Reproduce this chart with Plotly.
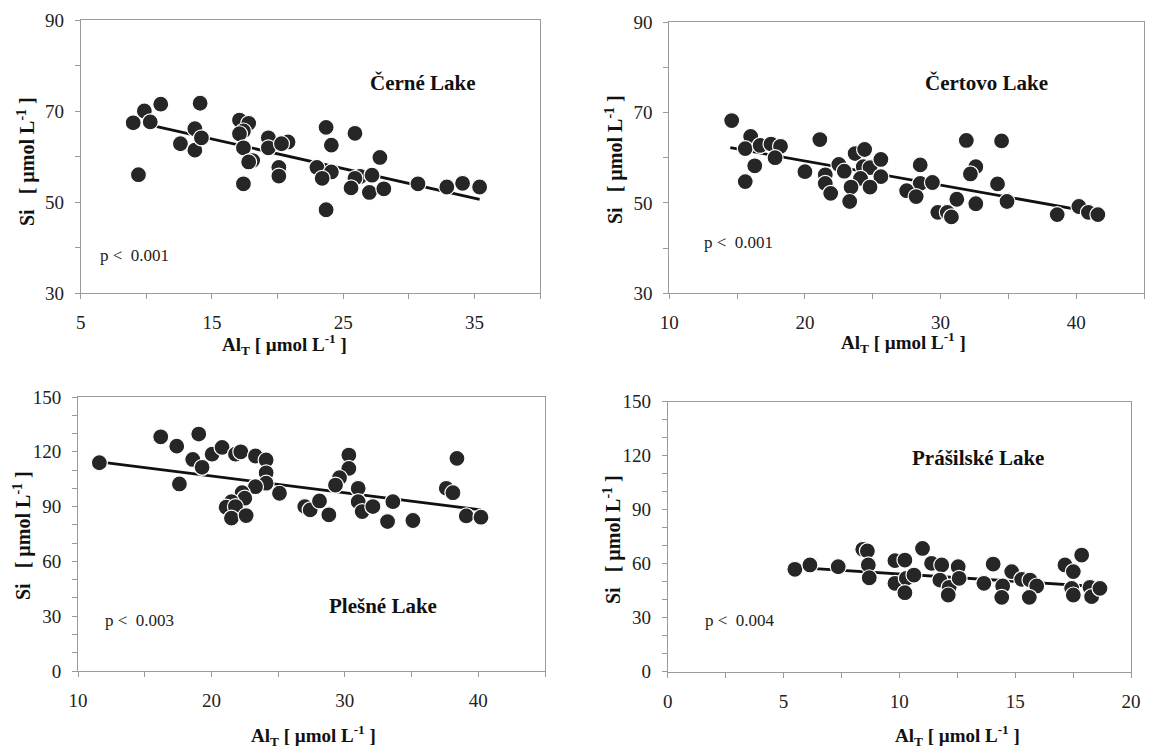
import plotly.graph_objects as go

# page is shown in a 1155x751 window; the page body adds an 8px margin
WIN_W, WIN_H = 1155, 751
OFF = 8
W, H = WIN_W - OFF, WIN_H - OFF

# ---------------- data ----------------
cerne_al = [9.0, 9.85, 10.3, 11.1, 9.4, 14.1, 13.7, 12.6, 13.7, 14.2, 17.1, 17.8, 17.4, 17.1, 17.4,
            18.1, 17.8, 17.4, 19.3, 19.3, 20.8, 20.1, 20.1, 20.3, 23.7, 24.1, 23.0, 24.1, 23.4, 23.7,
            25.9, 26.3, 25.9, 27.2, 27.0, 25.6, 27.8, 28.1, 30.7, 32.9, 34.1, 35.4]
cerne_si = [67.4, 70.0, 67.6, 71.5, 56.0, 71.7, 66.1, 62.8, 61.4, 64.1, 68.0, 67.3, 65.6, 65.0, 61.9,
            59.1, 58.8, 54.0, 64.1, 61.9, 63.2, 57.6, 55.7, 62.8, 66.4, 62.5, 57.6, 56.6, 55.2, 48.3,
            65.1, 55.6, 55.2, 55.9, 52.1, 53.1, 59.8, 52.9, 54.0, 53.3, 54.1, 53.3]
cerne_fit_al = [10.3, 35.4]
cerne_fit_si = [66.9, 50.6]

certovo_al = [14.6, 16.0, 15.6, 16.7, 17.5, 18.2, 17.8, 16.3, 15.6, 21.1, 20.0, 21.5, 21.5, 21.9,
              22.5, 22.9, 23.7, 24.4, 24.3, 24.8, 25.6, 25.6, 24.1, 24.8, 23.4, 23.3, 28.5, 28.5,
              29.4, 27.5, 28.2, 31.2, 29.8, 30.5, 30.8, 32.6, 32.6, 32.2, 31.9, 34.5, 34.2, 34.9,
              38.6, 40.2, 40.9, 41.6]
certovo_si = [68.2, 64.7, 62.0, 62.7, 63.0, 62.5, 60.0, 58.2, 54.7, 64.0, 56.9, 56.2, 54.3, 52.1,
              58.5, 57.0, 60.9, 61.8, 58.0, 57.8, 59.6, 55.8, 55.4, 53.5, 53.5, 50.3, 58.4, 54.3,
              54.5, 52.7, 51.4, 50.8, 47.9, 47.9, 46.9, 49.8, 58.0, 56.4, 63.8, 63.7, 54.2, 50.3,
              47.4, 49.2, 47.9, 47.4]
certovo_fit_al = [14.5, 41.3]
certovo_fit_si = [62.2, 47.9]

plesne_al = [11.6, 16.2, 17.4, 19.05, 18.6, 19.3, 17.6, 20.05, 20.8, 21.8, 22.2, 23.3, 24.1, 24.1,
             24.1, 23.3, 22.3, 22.5, 21.5, 21.1, 21.8, 21.5, 22.6, 25.1, 27.0, 27.4, 28.1, 28.8,
             30.3, 30.3, 29.6, 29.3, 31.0, 31.0, 31.3, 32.1, 33.6, 33.2, 35.1, 38.4, 37.6, 38.1,
             39.1, 40.2]
plesne_si = [114.0, 128.2, 123.1, 129.7, 115.8, 111.5, 102.4, 118.7, 122.4, 118.7, 120.0, 117.7, 115.5,
             108.5, 102.8, 100.9, 97.6, 94.6, 92.7, 89.7, 90.0, 83.7, 85.1, 97.3, 90.0, 88.2, 93.1,
             85.5, 118.2, 110.9, 105.8, 101.8, 100.0, 92.7, 87.3, 90.0, 92.7, 81.8, 82.4, 116.4,
             100.0, 97.6, 84.9, 84.2]
plesne_fit_al = [11.6, 40.2]
plesne_fit_si = [114.5, 88.2]

prasil_al = [5.49, 6.14, 7.36, 8.42, 8.62, 8.66, 8.70, 9.81, 10.24, 9.81, 10.3, 10.24, 10.63, 11.0,
             11.39, 11.83, 11.75, 12.15, 12.11, 12.54, 12.58, 13.65, 14.05, 14.46, 14.42, 14.85,
             15.28, 15.64, 15.93, 15.61, 17.15, 17.87, 17.51, 17.44, 17.51, 18.23, 18.3, 18.66]
prasil_si = [56.9, 59.3, 58.3, 68.0, 67.1, 59.3, 52.2, 61.7, 62.0, 49.1, 51.9, 43.9, 53.7, 68.5,
             60.2, 59.3, 50.9, 46.9, 42.6, 58.3, 51.9, 49.1, 59.8, 47.6, 41.3, 55.6, 51.3, 50.9,
             47.6, 41.3, 59.3, 64.8, 55.6, 46.3, 42.6, 46.9, 41.7, 46.3]
prasil_fit_al = [5.5, 18.66]
prasil_fit_si = [58.0, 47.2]

lake_names = ["Černé Lake", "Čertovo Lake", "Plešné Lake", "Prášilské Lake"]
p_labels = ["p <\u00a0 0.001", "p <\u00a0 0.001", "p <\u00a0 0.003", "p <\u00a0 0.004"]

# tick definitions
x1_ticks = [5, 10, 15, 20, 25, 30, 35, 40]
x1_text = ["5", "", "15", "", "25", "", "35", ""]
x2_ticks = [10, 15, 20, 25, 30, 35, 40, 45]
x2_text = ["10", "", "20", "", "30", "", "40", ""]
x4_ticks = [0, 2.5, 5, 7.5, 10, 12.5, 15, 17.5, 20]
x4_text = ["0", "", "5", "", "10", "", "15", "", "20"]
y1_ticks = [30, 40, 50, 60, 70, 80, 90]
y1_text = ["30", "", "50", "", "70", "", "90"]
y3_ticks = [0, 10, 20, 30, 40, 50, 60, 70, 80, 90, 100, 110, 120, 130, 140, 150]
y3_text = ["0", "", "", "30", "", "", "60", "", "", "90", "", "", "120", "", "", "150"]

# ---------------- figure ----------------
FONT = "Liberation Serif"
MARK = "#262626"
AXC = "#9a9a9a"

fig = go.Figure()

panels = [
    dict(ax="x", ay="y", al=cerne_al, si=cerne_si, fx=cerne_fit_al, fy=cerne_fit_si),
    dict(ax="x2", ay="y2", al=certovo_al, si=certovo_si, fx=certovo_fit_al, fy=certovo_fit_si),
    dict(ax="x3", ay="y3", al=plesne_al, si=plesne_si, fx=plesne_fit_al, fy=plesne_fit_si),
    dict(ax="x4", ay="y4", al=prasil_al, si=prasil_si, fx=prasil_fit_al, fy=prasil_fit_si),
]
for p in panels:
    fig.add_trace(go.Scatter(x=p["fx"], y=p["fy"], mode="lines", xaxis=p["ax"], yaxis=p["ay"],
                             line=dict(color="#111111", width=2.8), showlegend=False,
                             hoverinfo="skip"))
    fig.add_trace(go.Scatter(x=p["al"], y=p["si"], mode="markers", xaxis=p["ax"], yaxis=p["ay"],
                             marker=dict(size=16, color=MARK, line=dict(color="white", width=1.2)),
                             showlegend=False))


def px(xp, yp):
    return (xp - OFF) / W, 1 - (yp - OFF) / H


def dom_x(a, b):
    return [(a - OFF) / W, (b - OFF) / W]


def dom_y(top, bottom):
    return [1 - (bottom - OFF) / H, 1 - (top - OFF) / H]


def axis(domain, rng, tv, tt, anchor):
    return dict(domain=domain, range=rng, tickvals=tv, ticktext=tt, anchor=anchor,
                automargin=False,
                showgrid=False, zeroline=False, showline=True, mirror=True,
                linecolor=AXC, linewidth=1, ticks="outside", ticklen=5, tickcolor=AXC,
                tickfont=dict(family=FONT, size=19, color="#222222"),
                ticklabelstandoff=7)


layout = dict(
    template="none",
    width=W, height=H, margin=dict(l=0, r=0, t=0, b=0, pad=0, autoexpand=False),
    paper_bgcolor="white", plot_bgcolor="white", showlegend=False,
    xaxis=axis(dom_x(80.7, 540), [5, 40], x1_ticks, x1_text, "y"),
    yaxis=axis(dom_y(20, 293), [30, 90], y1_ticks, y1_text, "x"),
    xaxis2=axis(dom_x(669.3, 1144), [10, 45], x2_ticks, x2_text, "y2"),
    yaxis2=axis(dom_y(22, 293.3), [30, 90], y1_ticks, y1_text, "x2"),
    xaxis3=axis(dom_x(78, 545), [10, 45], x2_ticks, x2_text, "y3"),
    yaxis3=axis(dom_y(397, 671), [0, 150], y3_ticks, y3_text, "x3"),
    xaxis4=axis(dom_x(667.7, 1131), [0, 20], x4_ticks, x4_text, "y4"),
    yaxis4=axis(dom_y(401.7, 671.7), [0, 150], y3_ticks, y3_text, "x4"),
)
fig.update_layout(**layout)

annotations = []
xtitle = "<b>Al<sub>T</sub> [ µmol L<sup>-1</sup> ]</b>"
ytitle = "<b>Si\u00a0\u00a0\u00a0[ µmol L<sup>-1</sup> ]</b>"
for (cx, cy) in [(284, 344), (903, 342), (313, 735), (957, 735)]:
    x, y = px(cx, cy)
    annotations.append(dict(text=xtitle, x=x, y=y, xref="paper", yref="paper",
                            xanchor="center", yanchor="middle", showarrow=False,
                            font=dict(family=FONT, size=19, color="#111111")))
for (cx, cy) in [(26, 162), (614, 160), (22, 536), (612, 540)]:
    x, y = px(cx, cy)
    annotations.append(dict(text=ytitle, x=x, y=y, xref="paper", yref="paper", textangle=-90,
                            xanchor="center", yanchor="middle", showarrow=False,
                            font=dict(family=FONT, size=20, color="#111111")))
# lake names (centre positions in pixels)
for name, (cx, cy) in zip(lake_names, [(423, 83), (986, 83), (383, 606), (978, 458)]):
    x, y = px(cx, cy)
    annotations.append(dict(text="<b>" + name + "</b>", x=x, y=y, xref="paper", yref="paper",
                            xanchor="center", yanchor="middle", showarrow=False,
                            font=dict(family=FONT, size=21, color="#111111")))
for lab, (lx, cy) in zip(p_labels, [(98, 255), (702, 243), (103, 620), (703, 620)]):
    x, y = px(lx, cy)
    annotations.append(dict(text=lab, x=x, y=y, xref="paper", yref="paper",
                            xanchor="left", yanchor="middle", showarrow=False,
                            font=dict(family=FONT, size=17, color="#222222")))
fig.update_layout(annotations=annotations)

fig.write_html("out.html")
